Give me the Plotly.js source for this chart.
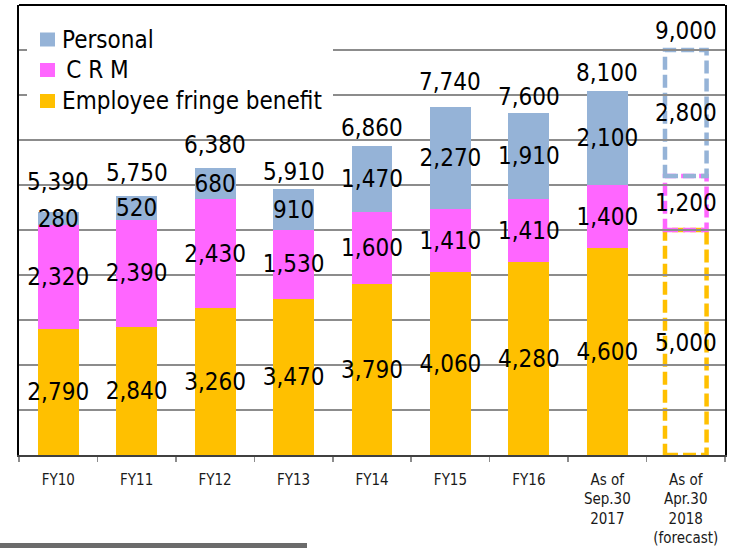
<!DOCTYPE html>
<html>
<head>
<meta charset="utf-8">
<script src="https://cdn.plot.ly/plotly-3.0.1.min.js"></script>
<style>html,body{margin:0;padding:0;background:#fff;}#chart{width:734px;height:548px;}</style>
</head>
<body>
<div id="chart"></div>
<script>
const categories = ['FY10','FY11','FY12','FY13','FY14','FY15','FY16','As of<br>Sep.30<br>2017','As of<br>Apr.30<br>2018<br>(forecast)'];
const employeeFringe = [2790,2840,3260,3470,3790,4060,4280,4600,5000];
const crm = [2320,2390,2430,1530,1600,1410,1410,1400,1200];
const personal = [280,520,680,910,1470,2270,1910,2100,2800];
const totals = [5390,5750,6380,5910,6860,7740,7600,8100,9000];
const seriesNames = ['Personal','\u2009C R M','Employee fringe benefit'];
// pixel lift of each total label above its bar (label placement, not data)
const totalLabelLift = [30,23,23,17,18,25,16,18,19];
const forecastIndex = categories.length - 1;

const FONT = 'DejaVu Sans Condensed, DejaVu Sans, sans-serif';
const seriesColors = ['#95B3D7','#FF66FF','#FFC000'];
const colors = {per:seriesColors[0], crm:seriesColors[1], emp:seriesColors[2]};

function colArr(c){ return categories.map((_,i)=> i===forecastIndex ? 'rgba(0,0,0,0)' : c); }

function barTrace(name, vals, c){
  return {
    type:'bar', name:name, x:categories, y:vals,
    marker:{color:colArr(c), line:{width:0}},
    texttemplate:'%{y:,d}', textposition:'inside', insidetextanchor:'middle',
    textangle:0, constraintext:'none', cliponaxis:false,
    insidetextfont:{family:FONT, size:24, color:'#000'},
    showlegend:false, hoverinfo:'skip'
  };
}

const traces = [
  barTrace(seriesNames[2], employeeFringe, colors.emp),
  barTrace(seriesNames[1], crm, colors.crm),
  barTrace(seriesNames[0], personal, colors.per)
];

// total labels above each bar
const annotations = totals.map((t,i)=>({
  xref:'x', yref:'y', x:categories[i], y:t, text:t.toLocaleString('en-US'),
  showarrow:false, yanchor:'middle', xanchor:'center', yshift:totalLabelLift[i],
  font:{family:FONT, size:24, color:'#000'}
}));

// legend (built from series names / colours)
const PW = 706, PH = 450; // plot area size in px
const px = v => (v-19)/PW, py = v => (455-v)/PH;
const legendRowY = [39.5, 70, 101];
const shapes = [
  {type:'rect', xref:'paper', yref:'paper', x0:px(27), x1:px(333), y0:py(15), y1:py(117), fillcolor:'#fff', line:{width:0}, layer:'above'}
];
seriesNames.forEach((n,i)=>{
  shapes.push({type:'rect', xref:'paper', yref:'paper', x0:px(40), x1:px(55), y0:py(legendRowY[i]-7), y1:py(legendRowY[i]+7),
               fillcolor:seriesColors[i], line:{width:0}, layer:'above'});
  annotations.push({xref:'paper', yref:'paper', x:px(60), y:py(legendRowY[i]), text:n, showarrow:false,
                    xanchor:'left', yanchor:'middle', font:{family:FONT, size:24, color:'#000'}});
});

// dashed outlines for the forecast bar, built from the forecast values
const f = forecastIndex;
const b1 = employeeFringe[f], b2 = b1 + crm[f], b3 = b2 + personal[f];
const dashStyle = '13px,5px';
shapes.push(
  {type:'rect', xref:'x', yref:'y', x0:f-0.265, x1:f+0.265, y0:0, y1:b1, line:{color:colors.emp, width:4.5, dash:dashStyle}, layer:'below'},
  {type:'rect', xref:'x', yref:'y', x0:f-0.265, x1:f+0.265, y0:b1, y1:b2, line:{color:colors.crm, width:4.5, dash:dashStyle}, layer:'below'},
  {type:'rect', xref:'x', yref:'y', x0:f-0.265, x1:f+0.265, y0:b2, y1:b3, line:{color:colors.per, width:4.5, dash:dashStyle}, layer:'below'},
  {type:'line', xref:'paper', yref:'paper', x0:0, x1:1, y0:1, y1:1, line:{color:'#000', width:2}},
  {type:'rect', xref:'paper', yref:'paper', x0:px(0), x1:px(307), y0:py(549), y1:py(543), fillcolor:'#6b6b6b', line:{width:0}}
);

const layout = {
  width:734, height:548,
  margin:{l:19, r:9, t:5, b:93, pad:0},
  paper_bgcolor:'#fff', plot_bgcolor:'#fff',
  barmode:'stack', bargap:0.48,
  showlegend:false,
  xaxis:{type:'category', categoryorder:'array', categoryarray:categories,
         showline:true, linecolor:'#404040', linewidth:1.5,
         ticks:'outside', tickson:'boundaries', ticklen:5, tickcolor:'#8c8c8c', tickwidth:1.5,
         ticklabelstandoff:10, tickangle:0,
         tickfont:{family:FONT, size:15, color:'#1a1a1a'}, showgrid:false, zeroline:false, fixedrange:true},
  yaxis:{range:[0,10000], tick0:0, dtick:1000, showgrid:true, gridcolor:'#8c8c8c', gridwidth:1.5,
         showticklabels:false, ticks:'', showline:true, linecolor:'#000', linewidth:2, mirror:true,
         zeroline:false, fixedrange:true},
  shapes:shapes,
  annotations:annotations
};

Plotly.newPlot('chart', traces, layout, {displayModeBar:false, staticPlot:true});
</script>
</body>
</html>
